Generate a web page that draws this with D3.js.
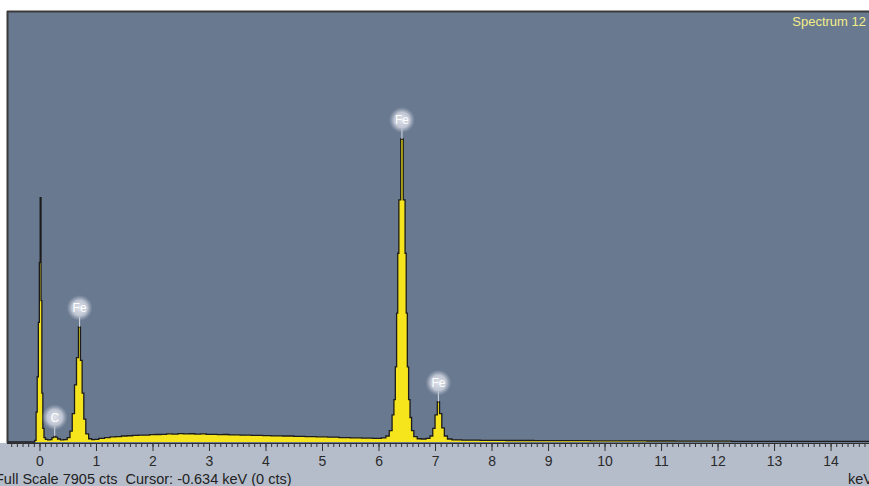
<!DOCTYPE html>
<head>
<meta charset="UTF-8">
<script src="https://cdn.jsdelivr.net/npm/d3@7"></script>
<style>
body { margin: 0; background: #fff; }
svg { display: block; }
.tick text { font-family: "Liberation Sans", Arial, sans-serif; font-size: 14px; fill: #2a2a2a; }
.tick line { stroke: #333; }
.status { font-family: "Liberation Sans", Arial, sans-serif; font-size: 14.5px; fill: #222; }
.title { font-family: "Liberation Sans", Arial, sans-serif; font-size: 13px; fill: #f2ee8a; }
.lbl { font-family: "Liberation Sans", Arial, sans-serif; font-size: 12px; fill: #fff; }
</style>
</head>
<body>
<script>

var width = 869,
    height = 486;

// spectrum: energy (keV) and counts
var energyKeV = [-0.56, -0.10, -0.07, -0.05, -0.03, -0.01, 0.005, 0.02, 0.035, 0.05, 0.07, 0.09,
  0.12, 0.17, 0.20, 0.24, 0.27, 0.30, 0.34, 0.40, 0.46, 0.52, 0.56, 0.60, 0.64, 0.67, 0.71,
  0.74, 0.77, 0.80, 0.84, 0.90, 0.95, 1.0, 1.1, 1.2, 1.3, 1.4, 1.5, 1.6, 1.7, 1.8, 1.9, 2.0,
  2.1, 2.2, 2.3, 2.4, 2.5, 2.6, 2.7, 2.8, 2.9, 3.0, 3.1, 3.2, 3.3, 3.4, 3.5, 3.6, 3.7, 3.8,
  3.9, 4.0, 4.2, 4.4, 4.6, 4.8, 5.0, 5.2, 5.4, 5.6, 5.8, 6.0, 6.1, 6.16, 6.22, 6.26, 6.285,
  6.31, 6.33, 6.35, 6.37, 6.415, 6.46, 6.48, 6.50, 6.52, 6.545, 6.57, 6.60, 6.65, 6.72, 6.80,
  6.88, 6.94, 6.98, 7.02, 7.06, 7.10, 7.14, 7.19, 7.25, 7.35, 7.6, 8.0, 8.5, 9.0, 9.5, 10.0,
  10.5, 11.0, 11.5, 12.0, 12.5, 13.0, 13.5, 14.0, 14.7];

var counts = [0, 0, 30, 550, 1200, 2200, 3300, 4490, 2600, 900, 250, 80,
  50, 40, 45, 80, 105, 90, 55, 40, 45, 80, 200, 520, 1050, 1550, 2115,
  1500, 900, 420, 150, 60, 45, 50, 65, 80, 95, 100, 110, 115, 120, 125, 128, 135,
  138, 140, 150, 145, 155, 148, 152, 145, 150, 140, 142, 135, 138, 130, 132, 125, 128, 120,
  122, 118, 112, 110, 105, 98, 95, 88, 82, 76, 72, 68, 75, 110, 210, 500, 780,
  1380, 2370, 3470, 4450, 5570, 4450, 3470, 2370, 1380, 780, 450, 210, 100, 60, 55,
  65, 110, 250, 500, 740, 520, 260, 110, 55, 38, 34, 30, 28, 26, 24, 22,
  20, 18, 16, 15, 13, 12, 11, 10, 10];

// peak labels
var peakNames = ["C", "Fe", "Fe", "Fe"];
var peakKeV = [0.27, 0.71, 6.415, 7.06];
var peakCounts = [105, 2115, 5570, 740];

var tickKeV = d3.range(0, 15);
var fullScale = 7905;

var plotLeft = 8, plotTop = 12, plotBottom = 442;

var x = d3.scaleLinear().domain([-0.557, 14.68]).range([plotLeft, width]);
var y = d3.scaleLinear().domain([0, fullScale]).range([plotBottom, plotTop]);

var data = energyKeV.map(function(e, i) { return [e, counts[i]]; });

var svg = d3.select("body").append("svg")
    .attr("width", width)
    .attr("height", height);

var defs = svg.append("defs");
var grad = defs.append("radialGradient").attr("id", "glow");
grad.append("stop").attr("offset", "0%").attr("stop-color", "#e6e9f0").attr("stop-opacity", 0.95);
grad.append("stop").attr("offset", "60%").attr("stop-color", "#cdd2de").attr("stop-opacity", 0.85);
grad.append("stop").attr("offset", "100%").attr("stop-color", "#a9b1c2").attr("stop-opacity", 0);

defs.append("clipPath").attr("id", "clip")
  .append("rect")
    .attr("x", plotLeft).attr("y", plotTop)
    .attr("width", width - plotLeft).attr("height", plotBottom - plotTop + 1);

// panels
svg.append("rect")
    .attr("x", 0).attr("y", plotBottom + 1)
    .attr("width", width).attr("height", height - plotBottom)
    .attr("fill", "#b5bdcb");

svg.append("rect")
    .attr("x", plotLeft).attr("y", plotTop)
    .attr("width", width - plotLeft).attr("height", plotBottom - plotTop + 1)
    .attr("fill", "#697990");

svg.append("line")
    .attr("x1", plotLeft - 1).attr("x2", width)
    .attr("y1", plotTop - 0.5).attr("y2", plotTop - 0.5)
    .attr("stroke", "#3a3a3a").attr("stroke-width", 2);
svg.append("line")
    .attr("x1", plotLeft - 0.5).attr("x2", plotLeft - 0.5)
    .attr("y1", plotTop - 1).attr("y2", plotBottom + 1)
    .attr("stroke", "#3a3a3a").attr("stroke-width", 2);

var spec = svg.append("g").attr("clip-path", "url(#clip)");

spec.append("path")
    .datum(data)
    .attr("fill", "#f6e51c")
    .attr("d", d3.area()
        .curve(d3.curveStep)
        .x(function(d) { return x(d[0]); })
        .y0(y(0))
        .y1(function(d) { return y(d[1]); }));

spec.append("path")
    .datum(data)
    .attr("fill", "none")
    .attr("stroke", "#1c1c1c")
    .attr("stroke-width", 1.3)
    .attr("d", d3.line()
        .curve(d3.curveStep)
        .x(function(d) { return x(d[0]); })
        .y(function(d) { return y(d[1]); }));

// axis
svg.append("line")
    .attr("x1", plotLeft - 1).attr("x2", width)
    .attr("y1", plotBottom + 1.5).attr("y2", plotBottom + 1.5)
    .attr("stroke", "#2e2e2e").attr("stroke-width", 1.2);

svg.append("g")
    .attr("transform", "translate(0," + (plotBottom + 2) + ")")
    .call(d3.axisBottom(x)
        .tickValues(d3.range(-5, 147).map(function(d) { return d / 10; }))
        .tickSize(3).tickFormat(""))
    .call(function(g) { g.select(".domain").remove(); });

svg.append("g")
    .attr("transform", "translate(0," + (plotBottom + 2) + ")")
    .call(d3.axisBottom(x).tickValues(tickKeV).tickSize(7).tickPadding(5).tickFormat(d3.format("d")))
    .call(function(g) { g.select(".domain").remove(); });

// peak labels
var lbl = svg.selectAll(".peak")
    .data(peakNames)
  .enter().append("g")
    .attr("class", "peak")
    .attr("transform", function(d, i) {
        return "translate(" + x(peakKeV[i]) + "," + (y(peakCounts[i]) - 19) + ")";
    });

lbl.append("line")
    .attr("x1", 0).attr("x2", 0)
    .attr("y1", 9).attr("y2", 19)
    .attr("stroke", "#d5dae4").attr("stroke-width", 1);

lbl.append("circle")
    .attr("r", 13)
    .attr("fill", "url(#glow)");

lbl.append("text")
    .attr("class", "lbl")
    .attr("text-anchor", "middle")
    .attr("dy", "0.36em")
    .text(function(d) { return d; });

// texts
svg.append("text")
    .attr("class", "title")
    .attr("x", 866).attr("y", 26)
    .attr("text-anchor", "end")
    .text("Spectrum 12");

svg.append("text")
    .attr("class", "status")
    .attr("x", -5).attr("y", 484)
    .text("Full Scale 7905 cts  Cursor: -0.634 keV (0 cts)")
    .style("white-space", "pre");

svg.append("text")
    .attr("class", "status")
    .attr("x", 848).attr("y", 484)
    .text("keV");

</script>
</body>
